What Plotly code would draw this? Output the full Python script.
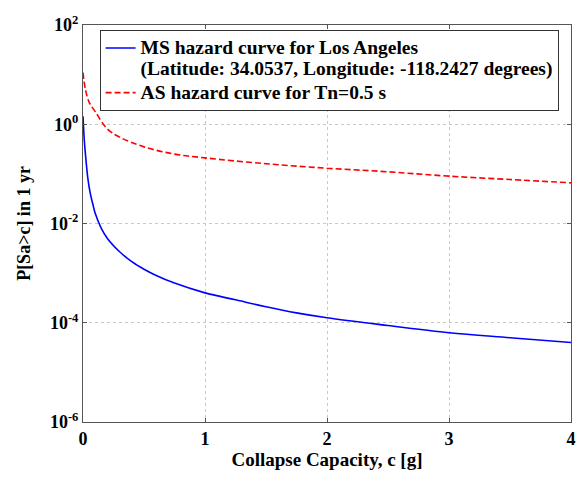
import plotly.graph_objects as go

# MS hazard curve (blue)
ms_c = [0.0, 0.01, 0.02, 0.04, 0.06, 0.08, 0.1, 0.15, 0.2, 0.3, 0.4, 0.5, 0.6, 0.75,
        1.0, 1.25, 1.5, 1.75, 2.0, 2.5, 3.0, 3.5, 4.0]
ms_p = [1.45, 0.5, 0.25, 0.08, 0.04, 0.025, 0.016, 0.008, 0.005, 0.0027, 0.0017, 0.0012,
        0.0009, 0.00063, 0.0004, 0.00029, 0.00021, 0.000158, 0.000126, 0.000088, 0.000063,
        0.00005, 0.00004]

# AS hazard curve (red dashed)
as_c = [0.0, 0.02, 0.05, 0.1, 0.2, 0.3, 0.5, 0.75, 1.0, 1.5, 2.0, 2.5, 3.0, 3.5, 4.0]
as_p = [11, 5, 2.8, 1.8, 0.8, 0.55, 0.35, 0.25, 0.21, 0.16, 0.13, 0.11, 0.09, 0.077, 0.066]

x_ticks = [0, 1, 2, 3, 4]
y_tickvals = [1e-6, 1e-4, 1e-2, 1e0, 1e2]
y_ticktext = ["10<sup>-6</sup>", "10<sup>-4</sup>", "10<sup>-2</sup>", "10<sup>0</sup>", "10<sup>2</sup>"]

ms_name = "MS hazard curve for Los Angeles<br>(Latitude: 34.0537, Longitude: -118.2427 degrees)"
as_name = "AS hazard curve for Tn=0.5 s"

font_family = "Liberation Serif"


def big(txt):
    return "<br>".join('<span style="font-size:19.5px"><b>%s</b></span>' % s for s in txt.split("<br>"))


fig = go.Figure()
fig.add_trace(go.Scatter(
    x=ms_c, y=ms_p, mode="lines", line=dict(color="#0000ff", width=1.6, shape="spline"),
    name=big(ms_name)))
fig.add_trace(go.Scatter(
    x=as_c, y=as_p, mode="lines", line=dict(color="#ff0000", width=1.6, dash="6px,3px", shape="spline"),
    name=big(as_name)))

axis_common = dict(
    showline=True, linecolor="#555555", linewidth=1, mirror="ticks",
    ticks="inside", ticklen=4, tickcolor="#555555",
    showgrid=True, gridcolor="#c8c8c8", griddash="dot", gridwidth=1,
    zeroline=False,
    tickfont=dict(family=font_family, size=18, color="black", weight="bold"),
)

fig.update_layout(
    width=583, height=481,
    margin=dict(l=83, r=7, t=25, b=59),
    paper_bgcolor="white", plot_bgcolor="white",
    font=dict(family=font_family, color="black"),
    xaxis=dict(range=[0, 4], tickvals=x_ticks,
               title=dict(text="<b>Collapse Capacity, c [g]</b>", font=dict(size=19), standoff=2),
               **axis_common),
    yaxis=dict(type="log", range=[-6, 2], tickvals=y_tickvals, ticktext=y_ticktext,
               title=dict(text="<b>P[Sa>c] in 1 yr</b>", font=dict(size=18), standoff=14),
               **axis_common),
    legend=dict(x=0.034, y=0.987, xanchor="left", yanchor="top",
                bgcolor="white", bordercolor="#333333", borderwidth=1,
                font=dict(family=font_family, size=16, color="black"),
                tracegroupgap=0, valign="top", itemwidth=30),
    showlegend=True,
)

fig.write_html("out.html")
